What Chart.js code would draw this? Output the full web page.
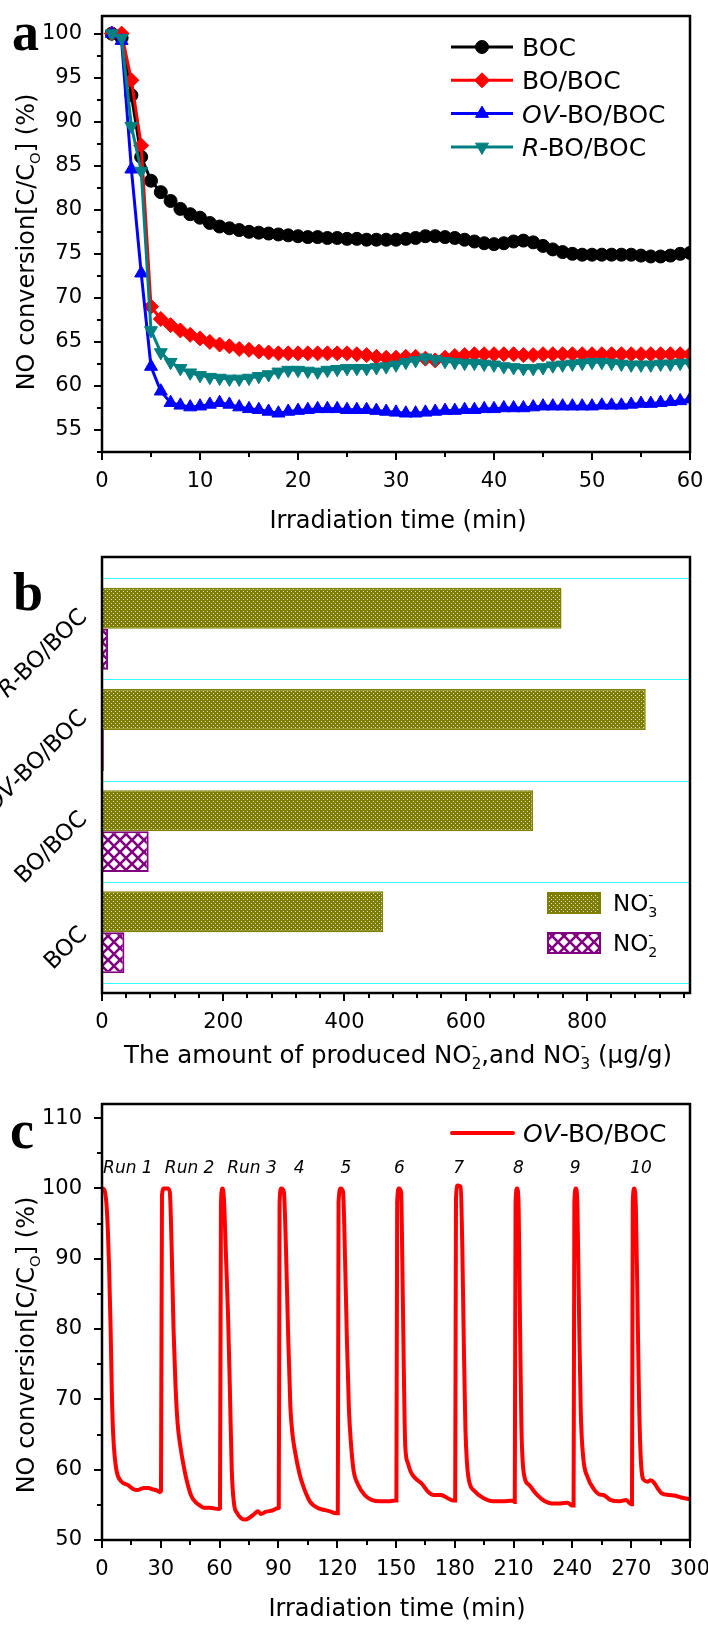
<!DOCTYPE html>
<html>
<head>
<meta charset="utf-8">
<title>NO conversion over BOC catalysts</title>
<script src="https://cdn.jsdelivr.net/npm/chart.js@4.4.1/dist/chart.umd.min.js"></script>
<style>
  body { margin: 0; background: #fff; }
  #wrap { position: relative; width: 708px; height: 1625px; overflow: hidden; }
  #wrap canvas { position: absolute; left: 0; }
</style>
</head>
<body>
<div id="wrap">
  <canvas id="chartA" width="708" height="540" style="top:0"></canvas>
  <canvas id="chartB" width="708" height="540" style="top:540px"></canvas>
  <canvas id="chartC" width="708" height="545" style="top:1080px"></canvas>
</div>
<script>
// ---------- panel a: NO conversion vs irradiation time ----------
const timeA = [1, 2, 3, 4, 5, 6, 7, 8, 9, 10,
  11, 12, 13, 14, 15, 16, 17, 18, 19, 20,
  21, 22, 23, 24, 25, 26, 27, 28, 29, 30,
  31, 32, 33, 34, 35, 36, 37, 38, 39, 40,
  41, 42, 43, 44, 45, 46, 47, 48, 49, 50,
  51, 52, 53, 54, 55, 56, 57, 58, 59, 60];
const bocConv = [100, 99.5, 93, 86, 83.3, 82, 81, 80.1, 79.5, 79.1,
  78.5, 78.1, 77.9, 77.7, 77.5, 77.4, 77.3, 77.2, 77.1, 77.0,
  76.9, 76.9, 76.8, 76.8, 76.7, 76.7, 76.6, 76.6, 76.6, 76.6,
  76.7, 76.8, 77.0, 77.0, 76.9, 76.8, 76.6, 76.4, 76.2, 76.1,
  76.2, 76.4, 76.5, 76.3, 75.9, 75.5, 75.2, 75.0, 74.9, 74.9,
  74.9, 74.9, 74.9, 74.9, 74.8, 74.7, 74.7, 74.8, 75.0, 75.1];
const boBocConv = [100, 100, 94.7, 87.3, 69.0, 67.6, 66.9, 66.3, 65.8, 65.4,
  65.0, 64.7, 64.5, 64.2, 64.1, 63.9, 63.8, 63.7, 63.7, 63.7,
  63.7, 63.7, 63.7, 63.7, 63.7, 63.6, 63.5, 63.3, 63.2, 63.2,
  63.3, 63.3, 63.1, 62.9, 63.2, 63.4, 63.5, 63.6, 63.6, 63.6,
  63.6, 63.6, 63.5, 63.5, 63.6, 63.6, 63.6, 63.6, 63.6, 63.6,
  63.6, 63.6, 63.6, 63.6, 63.6, 63.6, 63.6, 63.6, 63.6, 63.6];
const ovBoBocConv = [100, 99.2, 84.6, 72.8, 62.2, 59.4, 58.1, 57.8, 57.6, 57.7,
  57.9, 58.1, 57.9, 57.6, 57.4, 57.3, 57.1, 56.9, 57.1, 57.2,
  57.3, 57.4, 57.4, 57.4, 57.3, 57.3, 57.3, 57.2, 57.1, 57.0,
  56.9, 56.9, 57.0, 57.1, 57.2, 57.2, 57.3, 57.3, 57.4, 57.4,
  57.5, 57.5, 57.5, 57.6, 57.7, 57.7, 57.7, 57.7, 57.7, 57.7,
  57.8, 57.8, 57.8, 57.9, 58.0, 58.0, 58.1, 58.2, 58.3, 58.5];
const rBoBocConv = [100, 99.5, 89.5, 84.4, 66.3, 63.8, 62.7, 62.0, 61.5, 61.2,
  61.0, 60.9, 60.8, 60.8, 60.9, 61.1, 61.3, 61.6, 61.8, 61.8,
  61.7, 61.6, 61.8, 61.9, 62.0, 62.0, 62.0, 62.1, 62.2, 62.4,
  62.7, 62.9, 63.2, 63.0, 62.8, 62.7, 62.6, 62.6, 62.5, 62.4,
  62.2, 62.1, 62.0, 62.0, 62.1, 62.3, 62.4, 62.5, 62.6, 62.7,
  62.7, 62.6, 62.5, 62.4, 62.4, 62.4, 62.5, 62.5, 62.6, 62.6];
const seriesNamesA = ['BOC', 'BO/BOC', 'OV-BO/BOC', 'R-BO/BOC'];

// ---------- panel b: produced NO2- and NO3- ----------
const samplesB = ['BOC', 'BO/BOC', 'OV-BO/BOC', 'R-BO/BOC'];
const no3Amount = [464, 711, 897, 758];
const no2Amount = [37, 77, 3, 10];

// ---------- panel c: cycling runs of OV-BO/BOC ----------
const cycleTime = [
  0, 1.2, 2.2, 3.0, 3.6, 4.4, 5.1, 5.7, 6.5, 7.6, 9.9, 13.3, 15.6, 18, 21.4, 23.7, 26, 28.3, 29.6,
  30.1, 30.6, 31.5, 33.5, 34.6, 35.5, 36.5, 37.5, 38.6, 40, 41.5, 43.2, 45.5, 48, 50, 52, 54.7, 57, 59.6,
  60.2, 60.7, 61.5, 62.2, 63.3, 64.3, 65.2, 66.2, 67.3, 69, 71, 73.1, 75.4, 77.7, 79.5, 81.1, 83.4, 86.9, 89.6,
  90.2, 90.6, 91.5, 92.8, 93.8, 94.9, 96.1, 97.2, 98.4, 100.7, 102.5, 104.1, 106, 108, 110.5, 113, 116, 119.5,
  120.3, 120.7, 121.8, 123, 124, 125, 126, 127, 128.3, 130.6, 134, 137.5, 142, 146, 149.6,
  150.2, 150.6, 151.5, 152.6, 153.3, 154, 154.7, 156, 157.5, 159.8, 163.2, 166.2, 169.2, 173, 176.6, 179.6,
  180.2, 180.6, 181.5, 183, 183.8, 184.6, 185.4, 186.2, 187.2, 190.3, 195, 199.5, 204, 209.6,
  210.6, 211, 211.8, 212.6, 213.3, 214, 215.2, 218, 221.4, 226, 229.4, 234, 237.5, 240,
  240.6, 241, 241.8, 242.6, 243.4, 244.3, 245.5, 247.8, 251.3, 253.6, 255.9, 259.3, 263.9, 267.4, 269.9,
  270.4, 270.8, 271.6, 272.4, 273.2, 274, 275, 276.6, 278.5, 280, 281.5, 283.4, 285.7, 289.2, 292.6, 296.1, 300];
const cycleConv = [
  100, 99.8, 98, 94, 89, 80, 70, 65, 61.8, 59.6, 58.3, 57.8, 57.3, 57.1, 57.4, 57.4, 57.2, 57.0, 56.8,
  57, 99, 100, 100, 99.5, 92, 80, 72, 66.5, 63.3, 60.8, 58.5, 56.3, 55.3, 54.9, 54.6, 54.6, 54.5, 54.4,
  54.5, 98, 100, 98.5, 90, 82, 72, 60, 55.3, 53.8, 53.1, 52.9, 53.2, 53.7, 54.1, 53.7, 54, 54.2, 54.5,
  54.6, 98, 100, 99.5, 92, 80, 69, 65, 62.7, 59.5, 57.8, 56.6, 55.5, 54.9, 54.5, 54.3, 54.1, 53.8,
  53.8, 98, 100, 99.5, 90, 78, 68.5, 63.8, 60, 57.9, 56.4, 55.7, 55.5, 55.5, 55.6,
  55.6, 98, 100, 99.5, 88, 74, 63.5, 61, 59.7, 58.8, 58, 56.9, 56.4, 56.4, 55.9, 55.6,
  55.6, 98.5, 100.4, 100.2, 92, 78, 66, 61, 58.5, 56.9, 55.9, 55.5, 55.5, 55.6,
  55.4, 98, 100, 97, 80, 66, 59.5, 57.8, 56.6, 55.5, 55.2, 55.2, 55.3, 54.9,
  54.9, 98, 100, 97, 82, 68, 61.8, 58.9, 57.1, 56.5, 56.4, 55.7, 55.5, 55.7, 55.1,
  55.1, 98, 100, 97, 84, 70, 61, 58.5, 58.3, 58.5, 58.2, 57.4, 56.6, 56.4, 56.3, 56, 55.8];
const runLabels = ['Run 1', 'Run 2', 'Run 3', '4', '5', '6', '7', '8', '9', '10'];
const runLabelTime = [13.2, 44.7, 76.5, 100.6, 124.5, 151.8, 182, 212.4, 241.4, 275];
const runLabelLevel = 102.2;

// ---------- shared helpers ----------
const FONT = '"DejaVu Sans", sans-serif';
Chart.defaults.font.family = FONT;
Chart.defaults.font.size = 21;
Chart.defaults.color = '#000';

function setFont(ctx, size, italic) {
  ctx.font = (italic ? 'italic ' : '') + size + 'px ' + FONT;
}

// parts: {t, it} plain text, or {sub, sup} stacked small script
function partsWidth(ctx, parts, size) {
  let w = 0;
  parts.forEach(p => {
    if (p.t !== undefined) {
      setFont(ctx, size, p.it);
      w += ctx.measureText(p.t).width;
    } else {
      setFont(ctx, size * 0.62);
      w += Math.max(ctx.measureText(p.sub || '').width, ctx.measureText(p.sup || '').width);
    }
  });
  return w;
}

function drawParts(ctx, parts, x, y, size) {
  ctx.textAlign = 'left';
  ctx.textBaseline = 'alphabetic';
  parts.forEach(p => {
    if (p.t !== undefined) {
      setFont(ctx, size, p.it);
      ctx.fillText(p.t, x, y);
      x += ctx.measureText(p.t).width;
    } else {
      setFont(ctx, size * 0.62);
      if (p.sub) ctx.fillText(p.sub, x, y + size * 0.25);
      if (p.sup) ctx.fillText(p.sup, x, y - size * 0.5);
      x += Math.max(ctx.measureText(p.sub || '').width, ctx.measureText(p.sup || '').width);
    }
  });
}

function drawText(ctx, parts, x, y, size, angle, align) {
  const w = partsWidth(ctx, parts, size);
  ctx.save();
  ctx.translate(x, y);
  ctx.rotate(angle || 0);
  const x0 = align === 'right' ? -w : (align === 'center' ? -w / 2 : 0);
  drawParts(ctx, parts, x0, 0, size);
  ctx.restore();
}

function drawLetter(ctx, letter, x, y) {
  ctx.save();
  ctx.font = 'bold 54px "Liberation Serif", "DejaVu Serif", serif';
  ctx.fillStyle = '#000';
  ctx.textAlign = 'left';
  ctx.textBaseline = 'alphabetic';
  ctx.fillText(letter, x, y);
  ctx.restore();
}

// "OV-BO/BOC" -> italic OV, upright rest
function italicName(name) {
  const m = name.match(/^(OV|R)(-.*)$/);
  return m ? [{t: m[1], it: true}, {t: m[2]}] : [{t: name}];
}

function mkPairs(xs, ys) {
  return xs.map((x, i) => ({x: x, y: ys[i]}));
}

const yTitleParts = [{t: 'NO conversion[C/C'}, {sub: 'O'}, {t: '] (%)'}];
const xTitleTime = [{t: 'Irradiation time (min)'}];

// outward major/minor ticks plus the closed frame
const frameTicks = {
  id: 'frameTicks',
  afterDatasetsDraw(chart, args, opts) {
    const ctx = chart.ctx, a = chart.chartArea;
    ctx.save();
    ctx.strokeStyle = '#000';
    ctx.lineWidth = 2;
    ['x', 'y'].forEach(id => {
      if (opts.skip && opts.skip.indexOf(id) >= 0) return;
      const s = chart.scales[id];
      s.ticks.forEach(t => {
        const len = t.label !== '' ? 8 : 5;
        const p = Math.round(s.getPixelForValue(t.value));
        ctx.beginPath();
        if (id === 'x') { ctx.moveTo(p, a.bottom); ctx.lineTo(p, a.bottom + len); }
        else { ctx.moveTo(a.left, p); ctx.lineTo(a.left - len, p); }
        ctx.stroke();
      });
    });
    ctx.lineWidth = 2.5;
    ctx.strokeRect(a.left, a.top, a.right - a.left, a.bottom - a.top);
    ctx.restore();
  }
};

function axisOpts(min, max, step, labelEvery, pad, extra) {
  return Object.assign({
    type: 'linear', min: min, max: max,
    grid: {display: false}, border: {display: false},
    ticks: {
      stepSize: step, autoSkip: false, includeBounds: false, maxRotation: 0,
      color: '#000', font: {size: 21}, padding: pad,
      callback: v => (Math.abs(v / labelEvery - Math.round(v / labelEvery)) < 1e-6 ? v : '')
    }
  }, extra);
}

// ---------- chart a ----------
const styleA = [
  {color: '#000000', point: 'circle', radius: 6.5, rot: 0},
  {color: '#ff0000', point: 'rectRot', radius: 7.5, rot: 0},
  {color: '#0000ff', point: 'triangle', radius: 7.5, rot: 0},
  {color: '#008080', point: 'triangle', radius: 7.5, rot: 180}
];
const seriesA = [bocConv, boBocConv, ovBoBocConv, rBoBocConv];

const panelA = {
  id: 'panelA',
  afterDraw(chart) {
    const ctx = chart.ctx;
    ctx.save();
    ctx.fillStyle = '#000';
    drawLetter(ctx, 'a', 12, 50);
    drawText(ctx, yTitleParts, 34, 242, 24, -Math.PI / 2, 'center');
    drawText(ctx, xTitleTime, 398, 528, 24, 0, 'center');
    chart.data.datasets.forEach((ds, i) => {
      const y = 47 + i * 33.3;
      ctx.strokeStyle = ds.borderColor;
      ctx.fillStyle = ds.borderColor;
      ctx.lineWidth = 3;
      ctx.beginPath(); ctx.moveTo(451, y); ctx.lineTo(513, y); ctx.stroke();
      ctx.lineWidth = 1;
      Chart.helpers.drawPoint(ctx, {pointStyle: ds.pointStyle, rotation: ds.pointRotation,
        radius: ds.pointRadius, borderWidth: 1}, 482, y);
      ctx.fillStyle = '#000';
      drawText(ctx, italicName(ds.label), 522, y + 9, 25, 0, 'left');
    });
    ctx.restore();
  }
};

new Chart(document.getElementById('chartA'), {
  type: 'line',
  data: {
    datasets: seriesA.map((ys, i) => ({
      label: seriesNamesA[i],
      data: mkPairs(timeA, ys),
      borderColor: styleA[i].color,
      backgroundColor: styleA[i].color,
      borderWidth: 3,
      pointStyle: styleA[i].point,
      pointRadius: styleA[i].radius,
      pointRotation: styleA[i].rot,
      pointBorderWidth: 1,
      order: 4 - i,
      clip: 0
    }))
  },
  options: {
    responsive: false, animation: false, devicePixelRatio: 1,
    layout: {padding: {left: 0, top: 16, right: 18, bottom: 0}},
    plugins: {legend: {display: false}, tooltip: {enabled: false}},
    scales: {
      x: axisOpts(0, 60, 5, 10, 9, {afterFit: s => { s.height = 88; s.paddingLeft = 0; s.paddingRight = 0; }}),
      y: axisOpts(52.5, 102, 2.5, 5, 12, {afterFit: s => { s.width = 102; s.paddingTop = 0; s.paddingBottom = 0; }})
    }
  },
  plugins: [frameTicks, panelA]
});

// ---------- chart b ----------
const ctxB = document.getElementById('chartB').getContext('2d');

function dotPattern() {
  const c = document.createElement('canvas');
  c.width = 4; c.height = 4;
  const g = c.getContext('2d');
  g.fillStyle = '#7c7c00';
  g.fillRect(0, 0, 4, 4);
  g.fillStyle = '#e4e4c0';
  g.fillRect(1, 1, 1, 1);
  g.fillRect(3, 3, 1, 1);
  return ctxB.createPattern(c, 'repeat');
}

function hatchPattern() {
  const c = document.createElement('canvas');
  c.width = 12; c.height = 12;
  const g = c.getContext('2d');
  g.fillStyle = '#ffffff';
  g.fillRect(0, 0, 12, 12);
  g.strokeStyle = '#800080';
  g.lineWidth = 2.6;
  g.lineCap = 'square';
  g.beginPath();
  g.moveTo(-2, -2); g.lineTo(14, 14);
  g.moveTo(14, -2); g.lineTo(-2, 14);
  g.stroke();
  return ctxB.createPattern(c, 'repeat');
}

const no3Fill = dotPattern();
const no2Fill = hatchPattern();
const legendB = [
  {parts: [{t: 'NO'}, {sub: '3', sup: '-'}], ds: 0},
  {parts: [{t: 'NO'}, {sub: '2', sup: '-'}], ds: 1}
];
const xTitleB = [{t: 'The amount of produced NO'}, {sub: '2', sup: '-'}, {t: ',and NO'}, {sub: '3', sup: '-'}, {t: ' (\u03bcg/g)'}];
// rotated sample labels: the short BOC label sits a little lower in the original
const catLabelShift = [14, 0, 0, 0];

const panelB = {
  id: 'panelB',
  beforeDatasetsDraw(chart) {
    const ctx = chart.ctx, a = chart.chartArea, ys = chart.scales.y;
    ctx.save();
    ctx.strokeStyle = '#33ffff';
    ctx.lineWidth = 1;
    for (let i = 0; i <= samplesB.length; i++) {
      const p = Math.round(ys.getPixelForValue(i - 0.5)) + 0.5;
      ctx.beginPath(); ctx.moveTo(a.left, p); ctx.lineTo(a.right, p); ctx.stroke();
    }
    ctx.restore();
  },
  afterDraw(chart) {
    const ctx = chart.ctx, ys = chart.scales.y;
    ctx.save();
    ctx.fillStyle = '#000';
    drawLetter(ctx, 'b', 13, 70);
    samplesB.forEach((name, i) => {
      drawText(ctx, italicName(name), 88, ys.getPixelForValue(i) - 11 + catLabelShift[i], 23, -Math.PI / 4, 'right');
    });
    legendB.forEach((item, k) => {
      const ds = chart.data.datasets[item.ds];
      const top = 353 + k * 40;
      ctx.fillStyle = ds.backgroundColor;
      ctx.fillRect(548, top, 52, 20);
      ctx.strokeStyle = ds.borderColor;
      ctx.lineWidth = 2;
      ctx.strokeRect(548, top, 52, 20);
      ctx.fillStyle = '#000';
      drawText(ctx, item.parts, 613, top + 18, 23, 0, 'left');
    });
    drawText(ctx, xTitleB, 398, 523, 24.5, 0, 'center');
    ctx.restore();
  }
};

new Chart(ctxB, {
  type: 'bar',
  data: {
    datasets: [
      {label: 'NO3-', data: no3Amount.map((v, i) => ({x: v, y: i})),
        backgroundColor: no3Fill, borderColor: '#808000', borderWidth: 1.5,
        categoryPercentage: 0.81, barPercentage: 1},
      {label: 'NO2-', data: no2Amount.map((v, i) => ({x: v, y: i})),
        backgroundColor: no2Fill, borderColor: '#800080', borderWidth: 2,
        categoryPercentage: 0.81, barPercentage: 1}
    ]
  },
  options: {
    indexAxis: 'y',
    responsive: false, animation: false, devicePixelRatio: 1,
    layout: {padding: {left: 0, top: 17, right: 18, bottom: 0}},
    plugins: {legend: {display: false}, tooltip: {enabled: false}, frameTicks: {skip: ['y']}},
    scales: {
      x: axisOpts(0, 970, 40, 200, 9, {afterFit: s => { s.height = 87; s.paddingLeft = 0; s.paddingRight = 0; }}),
      y: {
        type: 'linear', min: -0.6, max: 3.71, offset: false,
        grid: {display: false}, border: {display: false},
        ticks: {display: false, stepSize: 1, includeBounds: false},
        afterFit: s => { s.width = 102; s.paddingTop = 0; s.paddingBottom = 0; }
      }
    }
  },
  plugins: [frameTicks, panelB]
});

// ---------- chart c ----------
const panelC = {
  id: 'panelC',
  afterDraw(chart) {
    const ctx = chart.ctx, xs = chart.scales.x, ys = chart.scales.y;
    ctx.save();
    ctx.fillStyle = '#000';
    drawLetter(ctx, 'c', 10, 68);
    drawText(ctx, yTitleParts, 34, 265, 24, -Math.PI / 2, 'center');
    drawText(ctx, xTitleTime, 397, 536, 24, 0, 'center');
    runLabels.forEach((lab, i) => {
      drawText(ctx, [{t: lab, it: true}], xs.getPixelForValue(runLabelTime[i]),
        ys.getPixelForValue(runLabelLevel), 17, 0, 'center');
    });
    const ds = chart.data.datasets[0];
    ctx.strokeStyle = ds.borderColor;
    ctx.lineWidth = 4;
    ctx.lineCap = 'round';
    ctx.beginPath(); ctx.moveTo(452, 53); ctx.lineTo(513, 53); ctx.stroke();
    drawText(ctx, italicName(ds.label), 523, 62, 25, 0, 'left');
    ctx.restore();
  }
};

new Chart(document.getElementById('chartC'), {
  type: 'line',
  data: {
    datasets: [{
      label: 'OV-BO/BOC',
      data: mkPairs(cycleTime, cycleConv),
      borderColor: '#ff0000',
      borderWidth: 4,
      pointRadius: 0,
      cubicInterpolationMode: 'monotone'
    }]
  },
  options: {
    responsive: false, animation: false, devicePixelRatio: 1,
    layout: {padding: {left: 0, top: 24, right: 18, bottom: 0}},
    plugins: {legend: {display: false}, tooltip: {enabled: false}},
    scales: {
      x: axisOpts(0, 300, 15, 30, 9, {afterFit: s => { s.height = 85; s.paddingLeft = 0; s.paddingRight = 0; }}),
      y: axisOpts(50, 112, 5, 10, 12, {afterFit: s => { s.width = 102; s.paddingTop = 0; s.paddingBottom = 0; }})
    }
  },
  plugins: [frameTicks, panelC]
});
</script>
</body>
</html>
